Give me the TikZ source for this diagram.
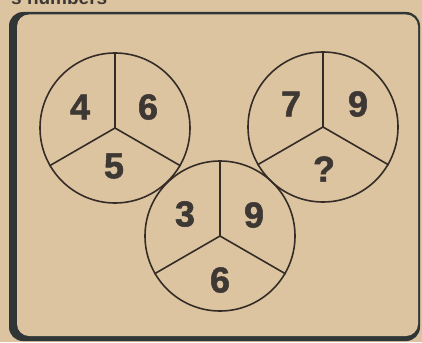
\documentclass[tikz,border=0pt]{standalone}
\usepackage{fontspec}
\setmainfont{Liberation Sans}
\newfontfamily\heavyfont{Liberation Sans}[BoldFeatures={FakeBold=1.5}]
\definecolor{paper}{RGB}{221,196,160}
\definecolor{ink}{RGB}{52,44,38}
\definecolor{digit}{RGB}{62,56,52}
\definecolor{shadowink}{RGB}{48,54,54}
\begin{document}
\begin{tikzpicture}[x=1pt,y=-1pt,
  wheel/.style={circle,draw=ink,line width=1.6pt,minimum size=150pt,inner sep=0pt},
  spoke/.style={draw=ink,line width=1.6pt},
  num/.style={inner sep=0pt,text=digit,font=\fontsize{36}{36}\heavyfont\bfseries},
  caption/.style={inner sep=0pt,anchor=base west,text=digit,font=\fontsize{19}{19}\selectfont\bfseries}]
\useasboundingbox (0,0) rectangle (422,342);
\clip (0,0) rectangle (422,342);
\fill[paper] (0,0) rectangle (422,342);
\node[caption] (cap) at (11,4.5) {s numbers};
% frame with heavy left/bottom edge
\fill[shadowink,rounded corners=14pt] (9,12) rectangle (420,341);
\fill[paper,rounded corners=12pt] (17,14.5) rectangle (418,336);
% wheels
\node[wheel] (c1) at (115,128) {};
\node[wheel] (c2) at (323,127) {};
\node[wheel] (c3) at (220,236) {};
\foreach \c in {c1,c2,c3}{
  \draw[spoke] (\c.center) -- (\c.90);
  \draw[spoke] (\c.center) -- (\c.-30);
  \draw[spoke] (\c.center) -- (\c.210);
}
\node[num] (a1) at (80,107) {4};
\node[num] (a2) at (148,107) {6};
\node[num] (a3) at (114,166) {5};
\node[num] (b1) at (291,104) {7};
\node[num] (b2) at (358,104) {9};
\node[num] (b3) at (324,169) {?};
\node[num] (d1) at (185,214) {3};
\node[num] (d2) at (254,215) {9};
\node[num] (d3) at (220,280) {6};
\end{tikzpicture}
\end{document}
